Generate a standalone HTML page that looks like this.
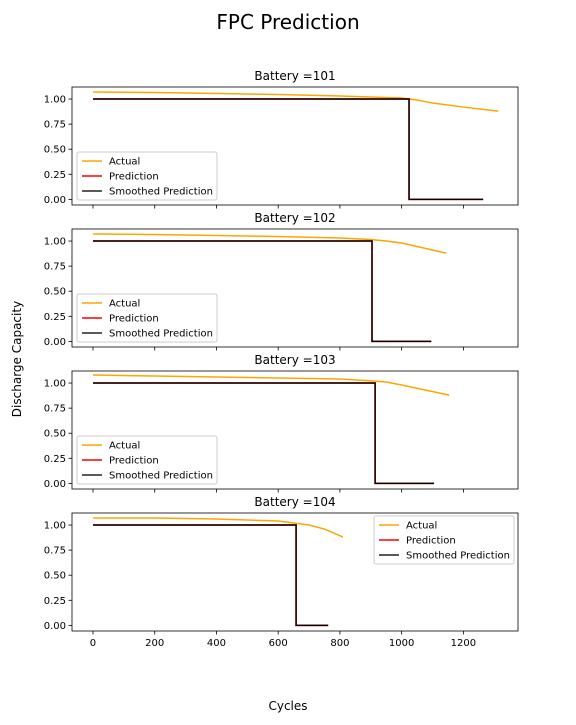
<!DOCTYPE html>
<html><head><meta charset="utf-8"><style>
body{margin:0;background:#fff;font-family:"Liberation Sans","DejaVu Sans",sans-serif}
svg text{font-family:"DejaVu Sans","Liberation Sans",sans-serif}
</style></head><body>
<svg id="chart" width="576" height="720" xmlns="http://www.w3.org/2000/svg">
<rect width="576" height="720" fill="#fff"/>
<text x="288" y="29" text-anchor="middle" font-size="20">FPC Prediction</text>
<text x="288" y="710" text-anchor="middle" font-size="12">Cycles</text>
<text transform="translate(21,359) rotate(-90)" text-anchor="middle" font-size="12">Discharge Capacity</text>
</svg>
<script>
const batteries=["101","102","103","104"];
const actualX=[[0,200,400,600,800,1000,1050,1100,1200,1313],[0,200,400,600,800,900,950,1000,1144],[0,200,400,600,800,910,950,1000,1154],[0,200,400,600,650,700,750,810]];
const actualY=[[1.07,1.065,1.055,1.045,1.03,1.01,0.99,0.96,0.92,0.88],[1.07,1.065,1.055,1.045,1.03,1.015,1.0,0.98,0.88],[1.08,1.07,1.06,1.05,1.04,1.02,1.01,0.98,0.88],[1.07,1.07,1.06,1.04,1.02,1.0,0.96,0.88]];
const dropAt=[1024,904,914,658];
const predEnd=[1264,1096,1105,762];
const xTicks=[0,200,400,600,800,1000,1200];
const yTicks=[0,0.25,0.5,0.75,1.0];
const svg=document.getElementById('chart');
const NS="http://www.w3.org/2000/svg";
const L=72,R=518,tops=[87,229,371,513],H=118;
const xMin=-68,xMax=1377,yMin=-0.056,yMax=1.12;
function mk(t,a,p){const e=document.createElementNS(NS,t);for(const k in a)e.setAttribute(k,a[k]);(p||svg).appendChild(e);return e;}
batteries.forEach((b,i)=>{
 const T=tops[i];
 const sx=v=>L+(v-xMin)/(xMax-xMin)*(R-L);
 const sy=v=>T+H-(v-yMin)/(yMax-yMin)*H;
 const g=mk('g',{});
 
 
 const t=mk('text',{x:(L+R)/2,y:T-7,'text-anchor':'middle','font-size':12},g);t.textContent='Battery ='+b;
 
 
 yTicks.forEach(v=>{mk('line',{x1:L-3.5,x2:L,y1:sy(v),y2:sy(v),stroke:'#000','stroke-width':0.8},g);
  const tt=mk('text',{x:L-6,y:sy(v)+3.5,'text-anchor':'end','font-size':10},g);tt.textContent=v.toFixed(2);
  
  });
 xTicks.forEach(v=>{mk('line',{x1:sx(v),x2:sx(v),y1:T+H,y2:T+H+3.5,stroke:'#000','stroke-width':0.8},g);
  if(i===3){const tt=mk('text',{x:sx(v),y:T+H+15,'text-anchor':'middle','font-size':10},g);tt.textContent=v;
  
  }});
 const a=mk('polyline',{points:actualX[i].map((x,j)=>sx(x)+','+sy(actualY[i][j])).join(' '),fill:'none',stroke:'orange','stroke-width':1.5},g);
 
 
 const pp=[[0,1],[dropAt[i],1],[dropAt[i],0],[predEnd[i],0]].map(p=>sx(p[0])+','+sy(p[1])).join(' ');
 const pr=mk('polyline',{points:pp,fill:'none',stroke:'red','stroke-width':1.5},g);
 
 
 const sm=mk('polyline',{points:pp,fill:'none',stroke:'#000','stroke-width':1.5,'stroke-opacity':0.95},g);
 
 
 mk('rect',{x:L,y:T,width:R-L,height:H,fill:'none',stroke:'#000','stroke-width':0.8},g);
 const lx=i===3?374:77,ly=i===3?T+3:T+65,lw=140;
 const lg=mk('g',{},g);
 
 
 mk('rect',{x:lx,y:ly,width:lw,height:48,rx:2,fill:'#fff','fill-opacity':0.8,stroke:'#ccc'},lg);
 [['Actual','orange'],['Prediction','red'],['Smoothed Prediction','#222']].forEach((e,k)=>{
  const yy=ly+9+k*15;
  mk('line',{x1:lx+5,x2:lx+25,y1:yy,y2:yy,stroke:e[1],'stroke-width':1.5},lg);
  const et=mk('text',{x:lx+32,y:yy+3.5,'font-size':10},lg);et.textContent=e[0];
  
  
 });
});
</script>
</body></html>
